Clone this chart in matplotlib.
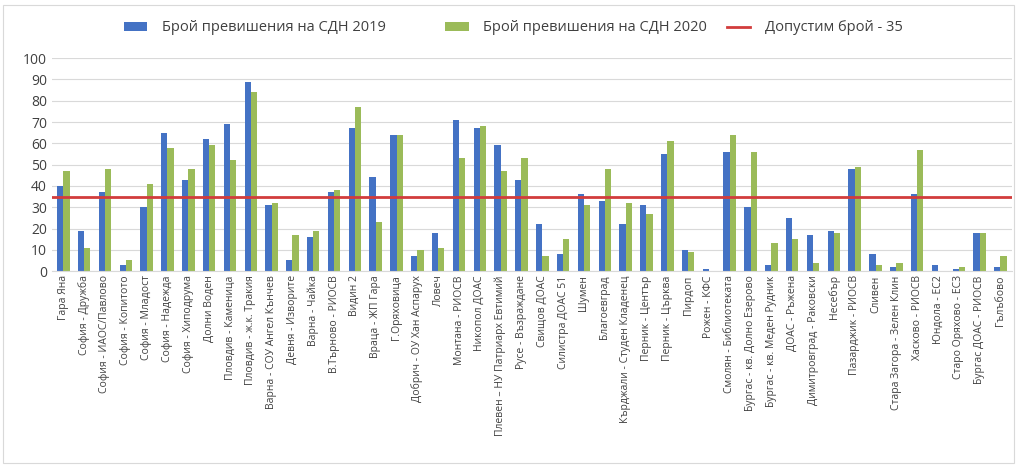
import matplotlib.pyplot as plt
import numpy as np
from matplotlib.patches import Rectangle

plt.rcParams['font.family'] = ['Open Sans', 'DejaVu Sans']

stations = ["Гара Яна", "София - Дружба", "София - ИАОС/Павлово", "София - Копитото",
            "София - Младост", "София - Надежда", "София - Хиподрума", "Долни Воден",
            "Пловдив - Каменица", "Пловдив - ж.к. Тракия", "Варна - СОУ Ангел Кънчев",
            "Девня - Изворите", "Варна - Чайка", "В.Търново - РИОСВ", "Видин 2",
            "Враца - ЖП Гара", "Г.Оряховица", "Добрич - ОУ Хан Аспарух", "Ловеч",
            "Монтана - РИОСВ", "Никопол ДОАС", "Плевен – НУ Патриарх Евтимий",
            "Русе - Възраждане", "Свищов ДОАС", "Силистра ДОАС 51", "Шумен",
            "Благоевград", "Кърджали - Студен Кладенец", "Перник - Център",
            "Перник - Църква", "Пирдоп", "Рожен - КФС", "Смолян - Библиотеката",
            "Бургас - кв. Долно Езерово", "Бургас - кв. Меден Рудник", "ДОАС - Ръжена",
            "Димитровград - Раковски", "Несебър", "Пазарджик - РИОСВ", "Сливен",
            "Стара Загора - Зелен Клин", "Хасково - РИОСВ", "Юндола - ЕС2",
            "Старо Оряхово - ЕС3", "Бургас ДОАС - РИОСВ", "Гълъбово"]
y2019 = [40, 19, 37, 3, 30, 65, 43, 62, 69, 89, 31, 5, 16, 37, 67, 44, 64, 7, 18, 71,
         67, 59, 43, 22, 8, 36, 33, 22, 31, 55, 10, 1, 56, 30, 3, 25, 17, 19, 48, 8,
         2, 36, 3, 1, 18, 2]
y2020 = [47, 11, 48, 5, 41, 58, 48, 59, 52, 84, 32, 17, 19, 38, 77, 23, 64, 10, 11, 53,
         68, 47, 53, 7, 15, 31, 48, 32, 27, 61, 9, 0, 64, 56, 13, 15, 4, 18, 49, 3,
         4, 57, 0, 2, 18, 7]
limit = 35

fig = plt.figure(figsize=(10.17, 4.65), dpi=100)
ax = fig.add_axes([0.051, 0.417, 0.944, 0.458])

x = np.arange(len(stations))
w = 0.3
b1 = ax.bar(x - w / 2, y2019, w, color='#4472C4', label='Брой превишения на СДН 2019', zorder=2)
b2 = ax.bar(x + w / 2, y2020, w, color='#9BBB59', label='Брой превишения на СДН 2020', zorder=2)
ln = ax.axhline(limit, color='#D23C3C', lw=2, label='Допустим брой - 35', zorder=3)

ax.set_xlim(-0.55, len(stations) - 0.45)
ax.set_ylim(0, 100)
ax.set_yticks(range(0, 101, 10))
ax.set_xticks(x)
ax.set_xticklabels(stations, rotation=90, fontsize=7.5, color='#404040')
ax.tick_params(axis='y', labelsize=10, colors='#404040', length=0)
ax.tick_params(axis='x', length=0, pad=3)
ax.grid(axis='y', color='#D9D9D9', lw=0.8, zorder=0)
for s in ['top', 'right', 'left']:
    ax.spines[s].set_visible(False)
ax.spines['bottom'].set_color('#D9D9D9')

# three separate legend entries, spaced like the original
for h, xpos in [(b1, 0.122), (b2, 0.438), (ln, 0.715)]:
    lg = fig.legend([h], [h.get_label()], loc='center left', bbox_to_anchor=(xpos, 0.94),
                    frameon=False, fontsize=10.5, handlelength=1.6, handleheight=0.6,
                    handletextpad=1.0, borderpad=0, borderaxespad=0, labelcolor='#404040')

fig.patches.append(Rectangle((0.003, 0.005), 0.994, 0.985, transform=fig.transFigure,
                             fill=False, edgecolor='#D9D9D9', lw=0.8))

fig.savefig('out.png', dpi=100)
